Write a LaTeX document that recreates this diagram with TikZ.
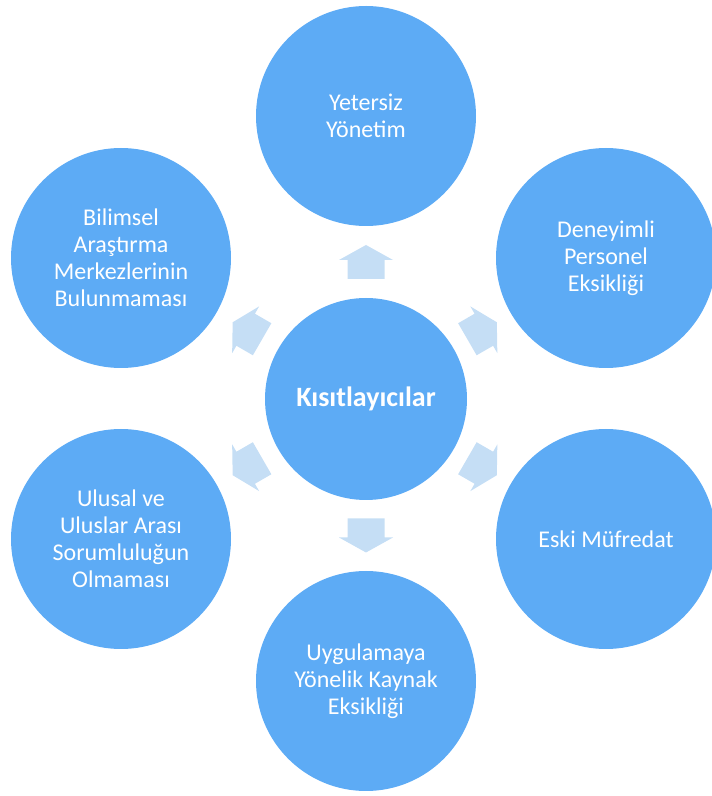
\documentclass[tikz,border=0pt]{standalone}
\usepackage{fontspec}
\setmainfont{Carlito}
\usetikzlibrary{calc}
\begin{document}
\begin{tikzpicture}[x=1pt, y=1pt]

\definecolor{dairerenk}{RGB}{93, 171, 245}
\definecolor{okrenk}{RGB}{197, 222, 245}

\tikzset{
  daire/.style={circle, fill=dairerenk, minimum size=220pt, inner sep=0pt, text=white, align=center, font=\fontsize{24}{27}\selectfont},
  merkez/.style={daire, minimum size=202pt, font=\fontsize{28}{32}\selectfont\bfseries}
}

\useasboundingbox (0, 0) rectangle (712, 796);

\node[merkez] (kis) at (366, 397) {Kısıtlayıcılar};

\node[daire] (yon) at (366, 680) {Yetersiz\\Yönetim};
\node[daire] (per) at (606, 538) {Deneyimli\\Personel\\Eksikliği};
\node[daire] (muf) at (606, 257) {Eski Müfredat};
\node[daire] (kay) at (366, 115) {Uygulamaya\\Yönelik Kaynak\\Eksikliği};
\node[daire] (sor) at (121, 257) {Ulusal ve\\Uluslar Arası\\Sorumluluğun\\Olmaması};
\node[daire] (bil) at (121, 538) {Bilimsel\\Araştırma\\Merkezlerinin\\Bulunmaması};

% outward block arrows
\foreach \ang/\ters/\dis in {90/-90/yon, 30/-150/per, -30/150/muf, -90/90/kay, -150/30/sor, 150/-30/bil} {
  \coordinate (ok-\dis) at ($(kis.\ang)!0.5!(\dis.\ters)$);
  \fill[okrenk, shift={(ok-\dis)}, rotate=\ang] (-17, -18.5) -- (2, -18.5) -- (2, -27) -- (17, 0) -- (2, 27) -- (2, 18.5) -- (-17, 18.5) -- cycle;
}

\end{tikzpicture}
\end{document}
